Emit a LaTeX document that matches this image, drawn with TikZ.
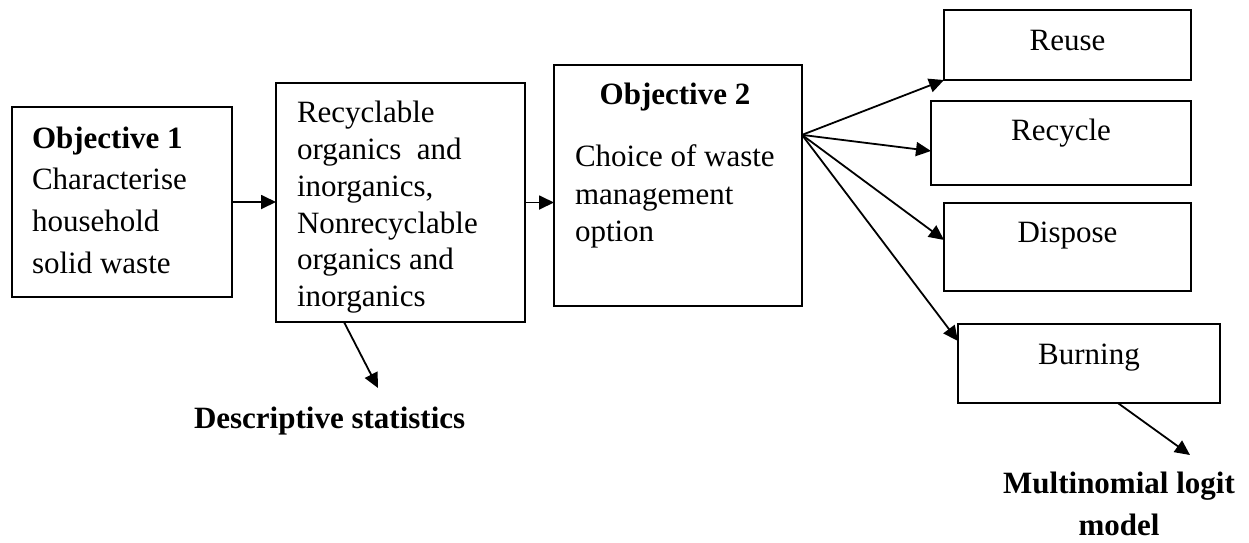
\documentclass[tikz,border=0pt]{standalone}
\usepackage{fontspec}
\setmainfont{Liberation Serif}
\usetikzlibrary{arrows.meta,calc}
\tikzset{
  box/.style={draw=black, line width=2pt, inner sep=0pt, outer sep=0pt, rectangle},
  txt/.style={inner sep=0pt, outer sep=0pt, anchor=base west, font=\fontsize{31}{37}\selectfont},
  ctxt/.style={txt, anchor=base},
  btxt/.style={txt, font=\fontsize{31}{37}\selectfont\bfseries},
  bctxt/.style={ctxt, font=\fontsize{31}{37}\selectfont\bfseries},
  arr/.style={line width=1.8pt, -{Triangle[length=15pt,width=14pt]}},
}
\begin{document}
\begin{tikzpicture}[x=1pt,y=-1pt]
\useasboundingbox (0,0) rectangle (1249,542);
% boxes
\node[box, minimum width=220pt, minimum height=190pt] (b1) at (122,202) {};
\node[box, minimum width=249pt, minimum height=239pt] (b2) at (400.5,202.5) {};
\node[box, minimum width=248pt, minimum height=241pt] (b3) at (678,185.5) {};
\node[box, minimum width=247pt, minimum height=70pt] (reuse) at (1067.5,45) {};
\node[box, minimum width=260pt, minimum height=84pt] (recycle) at (1061,143) {};
\node[box, minimum width=247pt, minimum height=88pt] (dispose) at (1067.5,247) {};
\node[box, minimum width=262pt, minimum height=79pt] (burning) at (1089,363.5) {};
% box 1 text
\node[btxt] (t1a) at (32,148) {Objective 1};
\node[txt] (t1b) at (32,189) {Characterise};
\node[txt] (t1c) at (32,231) {household};
\node[txt] (t1d) at (32,273) {solid waste};
% box 2 text
\node[txt] (t2a) at (297,122.3) {Recyclable};
\node[txt] (t2b) at (297,159.2) {organics\ \ and};
\node[txt] (t2c) at (297,196.1) {inorganics,};
\node[txt] (t2d) at (297,233.0) {Nonrecyclable};
\node[txt] (t2e) at (297,269.9) {organics and};
\node[txt] (t2f) at (297,306.8) {inorganics};
% box 3 text
\node[bctxt] (t3a) at (675,104) {Objective 2};
\node[txt] (t3b) at (575,166.7) {Choice of waste};
\node[txt] (t3c) at (575,204.2) {management};
\node[txt] (t3d) at (575,241.7) {option};
% option texts
\node[ctxt] (treuse) at (1067.5,50) {Reuse};
\node[ctxt] (trecycle) at (1061,140) {Recycle};
\node[ctxt] (tdispose) at (1067.5,242.7) {Dispose};
\node[ctxt] (tburning) at (1089,364) {Burning};
% method texts
\node[btxt] (desc) at (194,428.3) {Descriptive statistics};
\node[bctxt] (mlogit1) at (1119,493) {Multinomial logit};
\node[bctxt] (mlogit2) at (1119,535) {model};
% connectors
\coordinate (fan) at ($(b3.north east)!0.29!(b3.south east)$);
\coordinate (desctip) at (378,388);
\coordinate (mltip) at (1190,455);
\draw[arr] (b1.east) -- (b2.west |- b1.east);
\draw[arr] (b2.east) -- (b3.west |- b2.east);
\draw[arr] (fan) -- (reuse.south west);
\draw[arr] (fan) -- ($(recycle.south west)!0.405!(recycle.north west)$);
\draw[arr] (fan) -- ($(dispose.south west)!0.58!(dispose.north west)$);
\draw[arr] (fan) -- ($(burning.south west)!0.785!(burning.north west)$);
\draw[arr] ($(b2.south west)!0.273!(b2.south east)$) -- (desctip);
\draw[arr] ($(burning.south west)!0.61!(burning.south east)$) -- (mltip);
\end{tikzpicture}
\end{document}
